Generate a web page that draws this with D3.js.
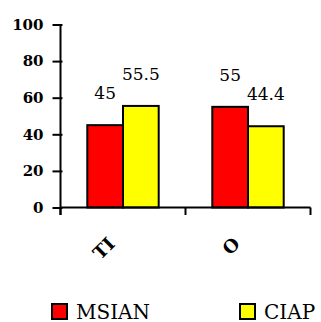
<!DOCTYPE html>
<html><head><meta charset="utf-8">
<script src="https://cdn.jsdelivr.net/npm/d3@7"></script>
<style>body{margin:0;background:#fff}svg{display:block}</style>
</head><body>
<script>
const categories = ["TI", "O"];
const seriesNames = ["MSIAN", "CIAP"];
const msian = [45, 55];
const ciap = [55.5, 44.4];
const valueLabels = [["45", "55.5"], ["55", "44.4"]];
const yTicks = [0, 20, 40, 60, 80, 100];
const colors = ["#FF0000", "#FFFF00"];

const W = 321, H = 322;
const svg = d3.select("body").append("svg").attr("width", W).attr("height", H);

const x0 = d3.scaleBand().domain(categories).range([60.5, 310.5]);
const x1 = d3.scaleBand().domain(seriesNames).range([26.8, 98.2]);
const y = d3.scaleLinear().domain([0, 100]).range([207.5, 24.5]);

const data = categories.map((c, i) => ({cat: c, vals: [msian[i], ciap[i]]}));

// bars
const g = svg.append("g");
data.forEach((d, i) => {
  d.vals.forEach((v, j) => {
    const bx = x0(d.cat) + x1(seriesNames[j]);
    g.append("rect")
      .attr("x", bx).attr("y", y(v))
      .attr("width", x1.bandwidth()).attr("height", y(0) - y(v))
      .attr("fill", colors[j]).attr("stroke", "#000").attr("stroke-width", 2);
    g.append("text")
      .attr("x", bx + x1.bandwidth() / 2).attr("y", y(v) - 26)
      .attr("text-anchor", "middle")
      .attr("font-family", "DejaVu Serif").attr("font-size", 17)
      .attr("fill", "#000")
      .text(valueLabels[i][j]);
  });
});

// y axis
const ya = svg.append("g").attr("transform", "translate(60.5,0)")
  .call(d3.axisLeft(y).tickValues(yTicks).tickSize(8).tickPadding(9).tickFormat(d3.format("d")));
ya.select(".domain").remove();
ya.selectAll(".tick line").attr("stroke", "#000").attr("stroke-width", 2).attr("x2", -8).attr("x1", 2);
ya.selectAll(".tick text").attr("font-family", "DejaVu Serif").attr("font-weight", "bold")
  .attr("font-size", 15).attr("fill", "#000");
svg.append("line").attr("x1", 60.5).attr("x2", 60.5).attr("y1", 24.5).attr("y2", 215)
  .attr("stroke", "#000").attr("stroke-width", 2);

// x axis
svg.append("line").attr("x1", 60.5).attr("x2", 310.5).attr("y1", 207.5).attr("y2", 207.5)
  .attr("stroke", "#000").attr("stroke-width", 2);
const xt = [x0.range()[0]].concat(categories.map(c => x0(c) + x0.bandwidth()));
xt.forEach(t => {
  svg.append("line").attr("x1", t).attr("x2", t).attr("y1", 207.5).attr("y2", 215)
    .attr("stroke", "#000").attr("stroke-width", 2);
});
categories.forEach(c => {
  const cx = x0(c) + x0.bandwidth() / 2;
  svg.append("text")
    .attr("transform", `translate(${cx - 7},245) rotate(-45)`)
    .attr("text-anchor", "end")
    .attr("font-family", "DejaVu Serif").attr("font-weight", "bold").attr("font-size", 18)
    .attr("fill", "#000").text(c);
});

// legend
const legX = [52, 240];
seriesNames.forEach((s, j) => {
  svg.append("rect").attr("x", legX[j]).attr("y", 304).attr("width", 15).attr("height", 15)
    .attr("fill", colors[j]).attr("stroke", "#000").attr("stroke-width", 2);
  svg.append("text").attr("x", legX[j] + 24).attr("y", 318.5)
    .attr("font-family", "DejaVu Serif").attr("font-size", 20).attr("fill", "#000").text(s);
});
</script>
</body></html>
